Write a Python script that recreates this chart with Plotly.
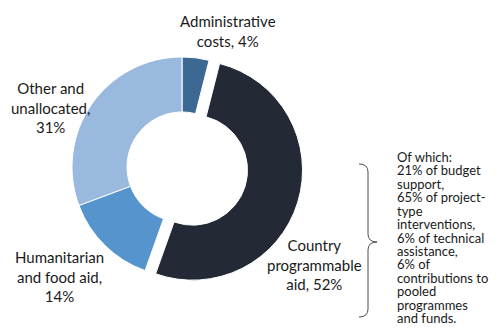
import plotly.graph_objects as go

# Shares of gross bilateral ODA by category (%)
categories = ["Administrative costs", "Country programmable aid",
              "Humanitarian and food aid", "Other and unallocated"]
shares = [4, 52, 14, 31]
colors = ["#3c6894", "#232a36", "#5694cd", "#99b9df"]
pull = [0, 0.1, 0, 0]

# Breakdown of country programmable aid, wrapped as it is set beside the brace
breakdown_lines = ["Of which:", "21% of budget", "support,", "65% of project-",
                   "type", "interventions,", "6% of technical", "assistance,",
                   "6% of", "contributions to", "pooled", "programmes",
                   "and funds."]

W, H = 502, 329
FONT = "Lato, 'Open Sans', sans-serif"


def px(x, y):
    return x / W, 1 - y / H


fig = go.Figure(go.Pie(
    labels=categories,
    values=shares,
    sort=False,
    direction="clockwise",
    rotation=0,
    hole=0.5,
    pull=pull,
    marker=dict(colors=colors, line=dict(color="white", width=1)),
    textinfo="none",
    hoverinfo="label+percent",
    showlegend=False,
    domain=dict(x=[0.1215, 0.6036], y=[0.0, 0.985]),
))

label_text = {
    "Administrative costs": ("Administrative<br>costs, {}%", 227.5, 31),
    "Country programmable aid": ("Country<br>programmable<br>aid, {}%", 314, 264),
    "Humanitarian and food aid": ("Humanitarian<br>and food aid,<br>{}%", 59, 276),
    "Other and unallocated": ("Other and<br>unallocated,<br>{}%", 50, 108),
}

annotations = []
for cat, val in zip(categories, shares):
    tmpl, lx, ly = label_text[cat]
    ax, ay = px(lx, ly)
    annotations.append(dict(
        text=tmpl.format(val), x=ax, y=ay, xref="paper", yref="paper",
        xanchor="center", yanchor="middle", showarrow=False, align="center",
        font=dict(family=FONT, size=15, color="#1a1a1a"),
    ))

# Breakdown text, one line per annotation for tight leading
line_top, leading = 156.7, 13.47
for i, line in enumerate(breakdown_lines):
    bx, by = px(396, line_top + i * leading)
    annotations.append(dict(
        text=line, x=bx, y=by, xref="paper", yref="paper",
        xanchor="left", yanchor="middle", showarrow=False, align="left",
        borderpad=0,
        font=dict(family=FONT, size=13, color="#1a1a1a"),
    ))

# Curly brace grouping the breakdown with the country programmable aid slice
pts = [(359, 164), (368, 164), (368, 172), (368, 234), (368, 242), (377, 242),
       (368, 242), (368, 250), (368, 309), (368, 317), (359, 317)]
p = [px(*q) for q in pts]
path = ("M {0[0]},{0[1]} Q {1[0]},{1[1]} {2[0]},{2[1]} L {3[0]},{3[1]} "
        "Q {4[0]},{4[1]} {5[0]},{5[1]} Q {6[0]},{6[1]} {7[0]},{7[1]} "
        "L {8[0]},{8[1]} Q {9[0]},{9[1]} {10[0]},{10[1]}").format(*p)

fig.update_layout(
    width=W, height=H,
    margin=dict(l=0, r=0, t=0, b=0),
    paper_bgcolor="white",
    plot_bgcolor="white",
    annotations=annotations,
    shapes=[dict(type="path", path=path, xref="paper", yref="paper",
                 line=dict(color="#4d4d4d", width=1))],
)

fig.write_html("out.html")
